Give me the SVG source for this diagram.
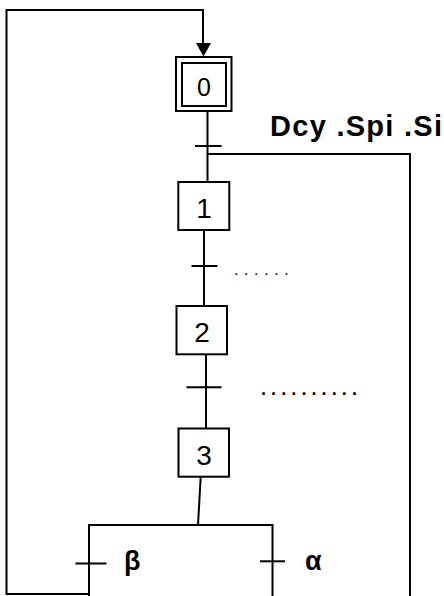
<svg xmlns="http://www.w3.org/2000/svg" width="444" height="596" viewBox="0 0 444 596">
<style>
.ln{fill:none;stroke:#000;stroke-width:2}
.box{fill:#fff;stroke:#000;stroke-width:2}
.num{font-family:"Liberation Sans",Arial,sans-serif;font-size:28px;text-anchor:middle;fill:#000}
.lbl{font-family:"Liberation Sans",Arial,sans-serif;font-weight:bold;fill:#000}
</style>
<rect width="444" height="596" fill="#fff"/>
<g id="connectors">
<polyline class="ln" points="88,594 6.5,594 6.5,10 203,10 203,44"/>
<polygon points="196,43 211,43 203.5,56.5" fill="#000"/>
<line class="ln" x1="207.5" y1="111" x2="207.5" y2="182"/>
<line class="ln" x1="195" y1="146" x2="221.5" y2="146"/>
<polyline class="ln" points="207.5,154 410,154 410,596"/>
<line class="ln" x1="204" y1="230" x2="204" y2="306"/>
<line class="ln" x1="191.5" y1="266" x2="217.5" y2="266"/>
<line class="ln" x1="206" y1="354" x2="206" y2="428"/>
<line class="ln" x1="186.5" y1="387.3" x2="221.5" y2="387.3"/>
<line class="ln" x1="200.7" y1="477" x2="198" y2="525"/>
<polyline class="ln" points="89,596 89,525 272.5,525 272.5,596"/>
<line class="ln" x1="75.5" y1="563.5" x2="106.5" y2="563.5"/>
<line class="ln" x1="260" y1="561.3" x2="285" y2="561.3"/>
</g>
<g id="step0">
<rect class="box" x="176" y="57" width="55.5" height="54"/>
<rect class="box" x="182" y="63" width="44" height="43"/>
<text class="num" x="204" y="96" style="font-size:25px">0</text>
</g>
<g id="step1">
<rect class="box" x="178.3" y="182" width="51" height="48"/>
<text class="num" x="204" y="218">1</text>
</g>
<g id="step2">
<rect class="box" x="176.5" y="306" width="50.5" height="48.3"/>
<text class="num" x="202" y="342">2</text>
</g>
<g id="step3">
<rect class="box" x="178.5" y="428.5" width="50.5" height="48.2"/>
<text class="num" x="204" y="465">3</text>
</g>
<g id="labels">
<text class="lbl" x="270" y="135.5" font-size="29" textLength="172" lengthAdjust="spacing">Dcy .Spi .Si</text>
<text x="234" y="275" font-family="Liberation Sans, Arial, sans-serif" font-size="16" letter-spacing="5.6">......</text>
<text class="lbl" x="261" y="395" font-size="18" letter-spacing="5.1">..........</text>
<text class="lbl" x="124" y="570" font-size="27">β</text>
<text class="lbl" x="305" y="570" font-size="27">α</text>
</g>
</svg>
